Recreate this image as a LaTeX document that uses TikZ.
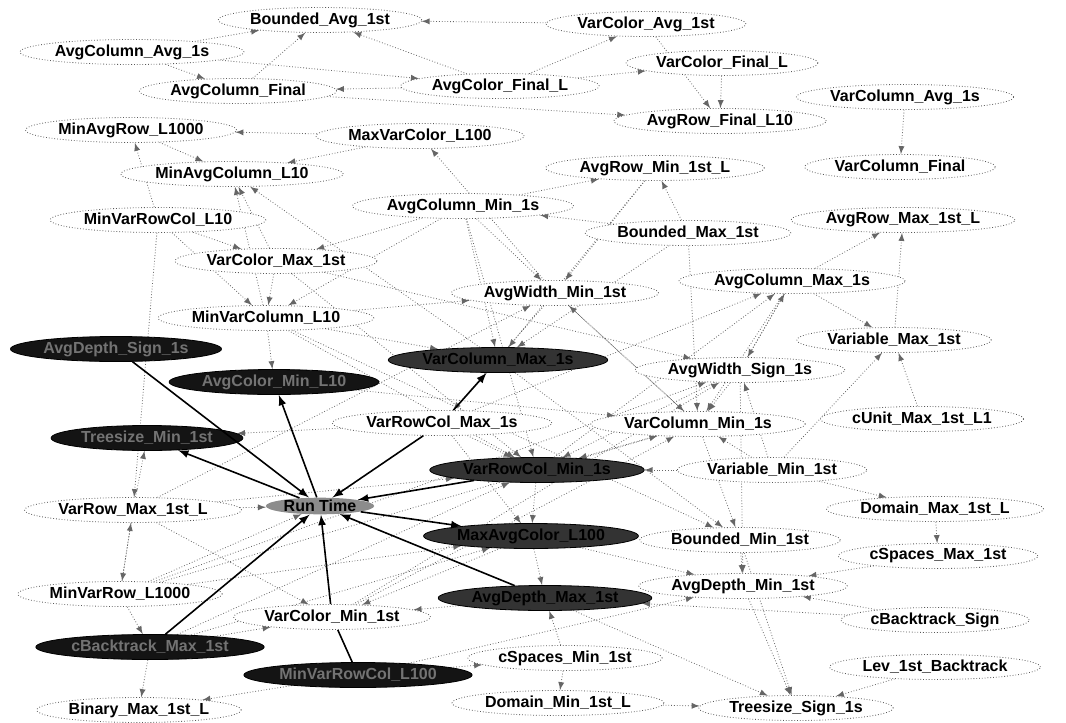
\documentclass[tikz,border=0pt]{standalone}
\usepackage{fontspec}
\setmainfont{Liberation Sans}
\usetikzlibrary{shapes.geometric}
\pgfdeclarelayer{edges}
\pgfsetlayers{edges,main}
\begin{document}
\begin{tikzpicture}[x=0.5pt,y=-0.5pt,>=latex,
    var/.style={ellipse,draw=black!65,densely dotted,fill=white,inner xsep=1pt,inner ysep=0pt,
      minimum height=12.5pt,font=\fontsize{8}{9}\selectfont\bfseries},
    dark/.style={var,solid,draw=black,fill=black!92,text=black!55},
    mid/.style={var,solid,draw=black,fill=black!80,text=black},
    target/.style={ellipse,fill=black!45,inner xsep=1pt,inner ysep=0pt,minimum height=0pt,
      font=\fontsize{8}{9}\selectfont\bfseries},
    dep/.style={->,draw=black!60,densely dotted},
    strong/.style={->,thick,black}]
    \useasboundingbox (0,0) rectangle (1066,723);

    % attributes
    \node[var] (bavg) at (320,20) {Bounded\_Avg\_1st};
    \node[var] (vcavg) at (646,24) {VarColor\_Avg\_1st};
    \node[var] (acavg) at (132,52) {AvgColumn\_Avg\_1s};
    \node[var] (acfin) at (238,91) {AvgColumn\_Final};
    \node[var] (acofin) at (500,86) {AvgColor\_Final\_L};
    \node[var] (vcfin) at (722,63) {VarColor\_Final\_L};
    \node[var] (vcoavg) at (905,97) {VarColumn\_Avg\_1s};
    \node[var] (arfin) at (720,121) {AvgRow\_Final\_L10};
    \node[var] (mar) at (131,130) {MinAvgRow\_L1000};
    \node[var] (mvc) at (420,136) {MaxVarColor\_L100};
    \node[var] (vcofin) at (900,167) {VarColumn\_Final};
    \node[var] (mac) at (232,174) {MinAvgColumn\_L10};
    \node[var] (armin) at (655,168) {AvgRow\_Min\_1st\_L};
    \node[var] (acmin) at (463,206) {AvgColumn\_Min\_1s};
    \node[var] (mvrc) at (158,220) {MinVarRowCol\_L10};
    \node[var] (bmax) at (688,233) {Bounded\_Max\_1st};
    \node[var] (armax) at (903,220) {AvgRow\_Max\_1st\_L};
    \node[var] (vcmax) at (276,261) {VarColor\_Max\_1st};
    \node[var] (awmin) at (555,293) {AvgWidth\_Min\_1st};
    \node[var] (acmax) at (792,281) {AvgColumn\_Max\_1s};
    \node[var] (mvcol) at (266,318) {MinVarColumn\_L10};
    \node[var] (vmax) at (894,340) {Variable\_Max\_1st};
    \node[var] (awsign) at (740,370) {AvgWidth\_Sign\_1s};
    \node[var] (vrcmax) at (442,423) {VarRowCol\_Max\_1s};
    \node[var] (vcomin) at (698,424) {VarColumn\_Min\_1s};
    \node[var] (cunit) at (922,419) {cUnit\_Max\_1st\_L1};
    \node[var] (vmin) at (772,470) {Variable\_Min\_1st};
    \node[var] (vrmax) at (133,510) {VarRow\_Max\_1st\_L};
    \node[var] (dmax) at (935,509) {Domain\_Max\_1st\_L};
    \node[var] (bmin) at (740,540) {Bounded\_Min\_1st};
    \node[var] (csmax) at (938,556) {cSpaces\_Max\_1st};
    \node[var] (mvr) at (120,594) {MinVarRow\_L1000};
    \node[var] (admin) at (743,586) {AvgDepth\_Min\_1st};
    \node[var] (vcmin) at (332,617) {VarColor\_Min\_1st};
    \node[var] (cback) at (935,620) {cBacktrack\_Sign};
    \node[var] (csmin) at (565,658) {cSpaces\_Min\_1st};
    \node[var] (lev) at (935,667) {Lev\_1st\_Backtrack};
    \node[var] (bin) at (139,710) {Binary\_Max\_1st\_L};
    \node[var] (dmin) at (558,703) {Domain\_Min\_1st\_L};
    \node[var] (tsign) at (796,708) {Treesize\_Sign\_1s};

    % direct parents of the run time
    \node[dark] (adsign) at (116,349) {AvgDepth\_Sign\_1s};
    \node[dark] (acomin) at (274,382) {AvgColor\_Min\_L10};
    \node[dark] (tmin) at (147,438) {Treesize\_Min\_1st};
    \node[mid] (vcomax) at (498,360) {VarColumn\_Max\_1s};
    \node[mid] (vrcmin) at (537,470) {VarRowCol\_Min\_1s};
    \node[mid] (macol) at (531,536) {MaxAvgColor\_L100};
    \node[mid] (admax) at (545,598) {AvgDepth\_Max\_1st};
    \node[dark] (tmax) at (150,647) {cBacktrack\_Max\_1st};
    \node[dark] (mvrc100) at (358,675) {MinVarRowCol\_L100};
    \node[target] (rt) at (320,506) {Run Time};

    \begin{pgfonlayer}{edges}
    % top group
    \foreach \a/\b in {acavg/bavg,vcavg/bavg,acavg/acfin,acfin/bavg,acofin/bavg,acavg/acofin,
        acofin/acfin,acofin/vcavg,acofin/vcfin,vcfin/arfin,vcavg/arfin,acfin/arfin,vcoavg/vcofin,
        mvc/mar,mar/mac,mvrc/mar,mvc/mac,awmin/mvc,vcmax/mac,mvcol/mac,vcomax/mac,acmin/vcmax,
        mvrc/vcmax,mvrc/mvcol,acmin/armin,bmax/armin,bmax/acmin,acmax/armax,vmax/armax}
      \draw[dep] (\a) -- (\b);
    % middle group
    \foreach \a/\b in {vrcmin/acmax,vrcmax/acmax,awsign/acmax,acmax/vmax,cunit/vmax,vmin/vmax,
        mvrc/vrmax,vrmax/mvr,mvr/vrmax,mvr/tmax,tmax/bin,mvrc100/bin,vcmax/mvcol,mvcol/acomin,
        mvcol/awmin,mvcol/vcomax,acmin/mvcol,acmin/vcomax,acmin/awmin,bmax/vcomax,armin/vcomax,
        awmin/vcomin,awsign/vcomin,vcomin/awmin,acmax/vcomin,acmax/awsign,awsign/vrcmin,
        vcomin/vrcmin,vmin/vcomin,vmin/awsign,vmin/vrcmin,vrcmax/vrcmin,vrcmax/macol,vrcmax/tmin,
        vcmax/vrcmin,acomin/vcomin,vcomax/bmin,mvcol/bmin,vrmax/awmin,vrmax/tmin,
        vcmax/awsign,acmin/vrcmin,armin/awmin,awmin/vrcmax,mvcol/vrcmin,bmax/vcomin}
      \draw[dep] (\a) -- (\b);
    % bottom group
    \foreach \a/\b in {vrcmin/macol,macol/admax,bmin/admin,macol/admin,csmax/admin,dmax/csmax,
        vmin/dmax,cback/admin,cback/admax,lev/tsign,dmin/tsign,csmin/dmin,csmin/admax,admax/tsign,
        admin/tsign,bmin/tsign,admax/vcmin,macol/vcmin,vrmax/vcmin,vrmax/rt,mvr/rt,tmax/vcmin,
        mvr/macol,mvr/vcomin,vcmin/awsign,tmax/vrcmin,mvrc100/admin,vcomin/bmin,awsign/admin,
        vrmax/vrcmin,vcmin/vcomin,tmax/macol,mvr/awsign,mvrc100/csmin}
      \draw[dep] (\a) -- (\b);
    \end{pgfonlayer}

    % links of the run time
    \draw[strong] (adsign) -- (rt);
    \draw[strong] (rt) -- (acomin);
    \draw[strong] (rt) -- (tmin);
    \draw[strong] (vrcmax) -- (rt);
    \draw[strong] (vrcmax) -- (vcomax);
    \draw[strong] (vrcmin) -- (rt);
    \draw[strong] (rt) -- (macol);
    \draw[strong] (admax) -- (rt);
    \draw[strong] (tmax) -- (rt);
    \draw[strong] (vcmin) -- (rt);
    \draw[thick] (vcmin) -- (mvrc100);
  \end{tikzpicture}
\end{document}
